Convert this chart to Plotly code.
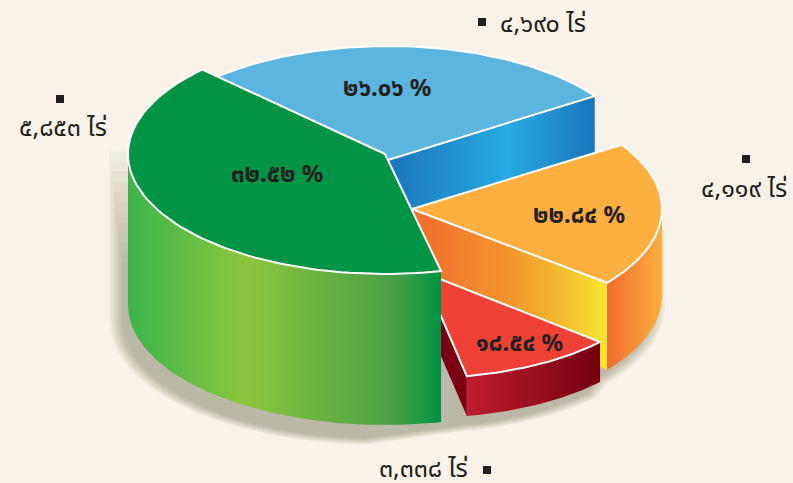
import numpy as np
import plotly.graph_objects as go

# ---- values printed on the chart ----
names = ["blue", "green", "orange", "red"]
percent_labels = ["๒๖.๐๖ %", "๓๒.๕๒ %", "๒๒.๘๔ %", "๑๘.๕๔ %"]
rai_labels = ["๔,๖๙๐ ไร่", "๕,๘๕๓ ไร่", "๔,๑๑๙ ไร่", "๓,๓๓๘ ไร่"]
# angular size of each slice as it is actually drawn in the picture (degrees);
# the source artwork is not proportional to its printed percentages
drawn_sweep_deg = [99.0, 147.3, 71.7, 37.8]

# ---- layout / styling ----
W, H = 793, 483
BG = "#F8F2E8"
START = dict(blue=34.2, green=135.3, orange=-38.7, red=-79.1)
GEOM = dict(
    blue=dict(c=(388, 160), a=250, b=114, h=70),
    green=dict(c=(385, 154), a=257, b=120, h=151),
    orange=dict(c=(412, 209), a=250, b=118, h=87),
    red=dict(c=(422, 272), a=237, b=106, h=40),
)
TOP = dict(blue="#5BB5DE", green="#009444", orange="#FDB040", red="#EF4136")
SWEEP = dict(zip(names, drawn_sweep_deg))


def arc(name, t0, t1, dy=0, da=0, dx=0, n=80):
    g = GEOM[name]
    t = np.radians(np.linspace(t0, t1, n))
    return (g["c"][0] + dx + (g["a"] + da) * np.cos(t),
            g["c"][1] + dy - (g["b"] + da * g["b"] / g["a"]) * np.sin(t))


fig = go.Figure()


def poly(xs, ys, color=None, grad=None, line=None, lw=0):
    kw = dict(x=list(xs), y=list(ys), mode="lines", fill="toself", hoverinfo="skip",
              showlegend=False, line=dict(color=line or "rgba(0,0,0,0)", width=lw))
    if grad:
        kw["fillgradient"] = dict(type="horizontal", colorscale=grad)
        kw["fillcolor"] = "rgba(0,0,0,0)"
    else:
        kw["fillcolor"] = color
    fig.add_trace(go.Scatter(**kw))


def top(name):
    g = GEOM[name]
    s = START[name]
    x, y = arc(name, s, s + SWEEP[name])
    poly([g["c"][0], *x, g["c"][0]], [g["c"][1], *y, g["c"][1]], color=TOP[name], line="white", lw=2)


def side(name, t0, t1, grad):
    h = GEOM[name]["h"]
    x, y = arc(name, t0, t1)
    xb, yb = arc(name, t1, t0, dy=h)
    poly([*x, *xb], [*y, *yb], grad=grad)


def cut(name, t, grad):
    g = GEOM[name]
    x, y = arc(name, t, t, n=1)
    cx, cy = g["c"]
    poly([cx, x[0], x[0], cx], [cy, y[0], y[0] + g["h"], cy + g["h"]], grad=grad)


# soft shadow: stacked translucent outlines
for s in np.linspace(8, -6, 12):
    xg, yg = arc("green", 180, 268, dy=GEOM["green"]["h"] + 16, dx=-11, da=s)
    xr, yr = arc("red", -79, -42, dy=GEOM["red"]["h"] + 12, dx=-7, da=s)
    xo, yo = arc("orange", -39, 0, dy=GEOM["orange"]["h"] + 11, dx=-5, da=s)
    start_y = 215 - 8 * s
    poly([300, xg[0], *xg, *xr, *xo, xo[-1], 300],
         [start_y, start_y, *yg, *yr, *yo, 230, start_y],
         color="rgba(95,92,85,0.04)")

# blue
cut("blue", START["blue"], [[0, "#1C75BC"], [0.58, "#27AAE1"], [1, "#1C75BC"]])
top("blue")
# orange
cut("orange", START["orange"], [[0, "#F26A2B"], [0.5, "#F2952E"], [0.75, "#F3B72F"], [1, "#F9E72E"]])
side("orange", START["orange"], 0, [[0, "#F26A2B"], [1, "#FBB040"]])
top("orange")
# red
cut("red", START["red"], [[0, "#7A0012"], [1, "#7A0012"]])
side("red", START["red"], START["red"] + SWEEP["red"], [[0, "#BE1E2D"], [1, "#75000F"]])
top("red")
# green
side("green", 180, START["green"] + SWEEP["green"],
     [[0, "#39B54A"], [0.37, "#8CC63F"], [0.85, "#4A9F45"], [1, "#009444"]])
top("green")

# label positions
PCT_POS = [(387, 86), (277, 172), (579, 213), (519, 341)]
RAI_POS = [(543, 22), (63, 126), (744, 187), (423, 467)]
MARK_POS = [(482, 22), (60, 99), (746, 159), (487, 470)]

fig.add_trace(go.Scatter(x=[p[0] for p in MARK_POS], y=[p[1] for p in MARK_POS], mode="markers",
                         marker=dict(symbol="square", size=8, color="#231F20"),
                         hoverinfo="skip", showlegend=False))

FONT = "Noto Sans, Noto Sans Thai, Loma, Garuda, sans-serif"
for txt, (x, y) in zip(percent_labels, PCT_POS):
    fig.add_annotation(x=x, y=y, text=f"<b>{txt}</b>", showarrow=False, xref="x", yref="y",
                       font=dict(family=FONT, size=24, color="#231F20"))
for txt, (x, y) in zip(rai_labels, RAI_POS):
    fig.add_annotation(x=x, y=y, text=txt, showarrow=False, xref="x", yref="y",
                       font=dict(family=FONT, size=25, color="#231F20"))

fig.update_layout(
    width=W, height=H, margin=dict(l=0, r=0, t=0, b=0),
    paper_bgcolor=BG, plot_bgcolor=BG, showlegend=False,
    xaxis=dict(range=[0, W], visible=False, fixedrange=True),
    yaxis=dict(range=[H, 0], visible=False, fixedrange=True),
)
fig.write_html("out.html", config=dict(displayModeBar=False),
               post_script=f"document.body.style.margin='0';document.body.style.background='{BG}';"
                           "document.documentElement.style.overflow='hidden';")
